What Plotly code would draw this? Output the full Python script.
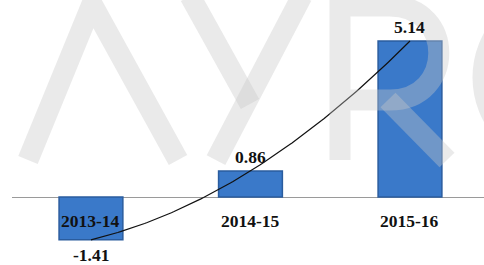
import numpy as np
import plotly.graph_objects as go

categories = ["2013-14", "2014-15", "2015-16"]
values = [-1.41, 0.86, 5.14]
value_labels = ["-1.41", "0.86", "5.14"]

W, H = 484, 265
ML = 12
PW = W - ML

xpos = list(range(len(categories)))

fig = go.Figure()

fig.add_trace(go.Bar(
    x=xpos, y=values, width=0.4,
    marker=dict(color="#3a79c9", line=dict(color="#2a5c9e", width=1.5)),
    hoverinfo="skip", showlegend=False,
))

# polynomial (order 2) trendline
coef = np.polyfit(xpos, values, 2)
tx = np.linspace(xpos[0], xpos[-1], 120)
ty = np.polyval(coef, tx)
fig.add_trace(go.Scatter(
    x=tx, y=ty, mode="lines",
    line=dict(color="#111111", width=1.2),
    hoverinfo="skip", showlegend=False,
))

font = dict(family="Liberation Serif, Times New Roman, serif", size=17.5, color="#111111")
ann = []
for x, v, lab in zip(xpos, values, value_labels):
    ann.append(dict(x=x, y=v, text="<b>%s</b>" % lab, showarrow=False,
                    xanchor="center", yanchor="middle",
                    yshift=14 if v >= 0 else -15, font=font))
for x, c in zip(xpos, categories):
    ann.append(dict(x=x, y=0, text="<b>%s</b>" % c, showarrow=False,
                    xanchor="center", yanchor="middle", yshift=-24, font=font))


# watermark (decorative) in pixel space -> paper
def px(x, y):
    return "%.4f,%.4f" % ((x - ML) / PW, 1 - y / H)


wm = dict(color="rgba(200,200,200,0.38)", width=21)
paths = [
    "M %s L %s L %s" % (px(28, 160), px(92, 4), px(178, 160)),
    "M %s L %s" % (px(190, -4), px(250, 104)),
    "M %s L %s" % (px(216, 160), px(302, -4)),
    "M %s L %s L %s C %s %s %s L %s" % (px(340, 160), px(340, 6), px(390, 6),
                                        px(455, 6), px(455, 100), px(390, 100), px(340, 100)),
    "M %s L %s" % (px(388, 100), px(447, 160)),
]
shapes = [dict(type="path", path=p, xref="paper", yref="paper",
               line=wm, layer="above") for p in paths]
shapes.append(dict(type="circle", xref="paper", yref="paper",
                   x0=(483 - ML) / PW, x1=(650 - ML) / PW,
                   y0=1 - 160 / H, y1=1 - (-5) / H, line=wm, layer="above"))

fig.update_layout(
    width=W, height=H,
    margin=dict(l=ML, r=0, t=0, b=0),
    paper_bgcolor="white", plot_bgcolor="white",
    xaxis=dict(range=[-0.495, 2.464], visible=False, fixedrange=True),
    yaxis=dict(range=[-2.24, 6.49], showgrid=False, showticklabels=False,
               zeroline=True, zerolinecolor="#9a9a9a", zerolinewidth=1,
               fixedrange=True),
    annotations=ann,
    shapes=shapes,
    showlegend=False,
)

fig.write_html("out.html", config={"displayModeBar": False},
               post_script="document.body.style.margin='0';document.body.style.overflow='hidden';")
